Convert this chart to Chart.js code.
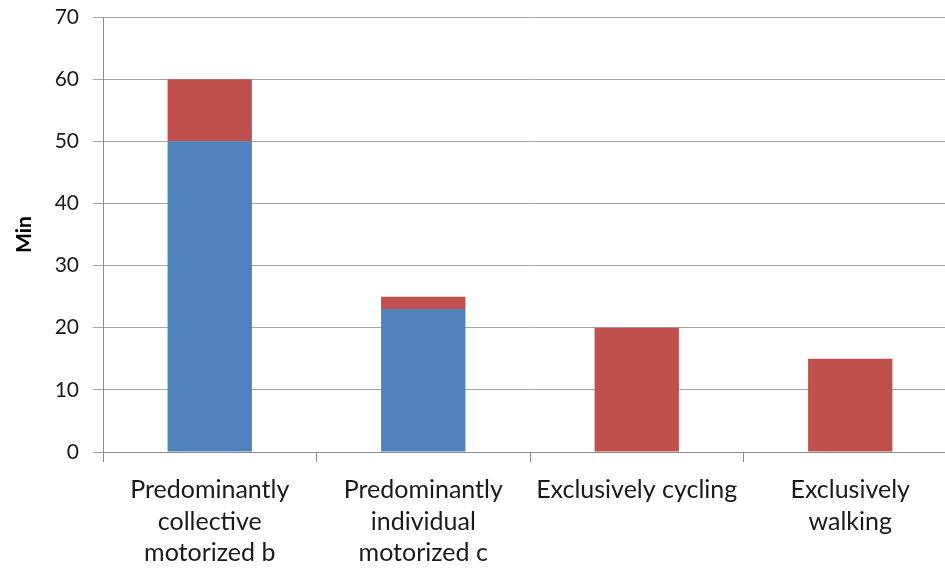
<!DOCTYPE html>
<html>
<head>
<meta charset="utf-8">
<script src="https://cdn.jsdelivr.net/npm/chart.js@4"></script>
<style>
  html, body { margin: 0; padding: 0; background: #fff; overflow: hidden; }
  #wrap { width: 960px; height: 570px; }
</style>
</head>
<body>
<div id="wrap"><canvas id="c" width="960" height="570"></canvas></div>
<script>
// Travel time by commuting mode (minutes)
const categories = [
  ["Predominantly", "collective", "motorized b"],
  ["Predominantly", "individual", "motorized c"],
  "Exclusively cycling",
  ["Exclusively", "walking"]
];
const seriesBlue = [50, 23, 0, 0];
const seriesRed = [10, 2, 20, 15];
const yTicks = { min: 0, max: 70, step: 10 };

const FONT = "Lato, 'Open Sans', sans-serif";
const axisGray = "#8c8c8c";

new Chart(document.getElementById("c"), {
  type: "bar",
  data: {
    labels: categories,
    datasets: [
      { label: "Motorized", data: seriesBlue, backgroundColor: "#4f81bd", borderWidth: 0 },
      { label: "Active", data: seriesRed, backgroundColor: "#c0504d", borderWidth: 0 }
    ]
  },
  options: {
    responsive: false,
    animation: false,
    devicePixelRatio: 1,
    layout: { padding: { top: 17, right: 3, left: 0, bottom: 0 } },
    plugins: { legend: { display: false }, tooltip: { enabled: false } },
    datasets: { bar: { categoryPercentage: 1, barPercentage: 0.395 } },
    scales: {
      x: {
        stacked: true,
        grid: { display: true, drawOnChartArea: false, drawTicks: true, tickLength: 10, color: axisGray, offset: true },
        border: { display: true, color: axisGray, width: 1 },
        ticks: { color: "#1a1a1a", font: { family: FONT, size: 25, lineHeight: 1.27 }, padding: 12, maxRotation: 0, autoSkip: false },
        afterFit: s => { s.height = 118; }
      },
      y: {
        stacked: true,
        min: yTicks.min,
        max: yTicks.max,
        grid: { color: "#a6a6a6", lineWidth: 1, drawTicks: true, tickLength: 10 },
        border: { display: true, color: axisGray, width: 1 },
        ticks: { stepSize: yTicks.step, color: "#1a1a1a", font: { family: FONT, size: 21 }, padding: 14 },
        title: { display: true, text: "Min", color: "#000", font: { family: FONT, size: 21, weight: "bold" }, padding: { top: 12, bottom: 0 } },
        afterFit: s => { s.width = 103; s.paddingTop = 0; s.paddingBottom = 0; }
      }
    }
  }
});
</script>
</body>
</html>
